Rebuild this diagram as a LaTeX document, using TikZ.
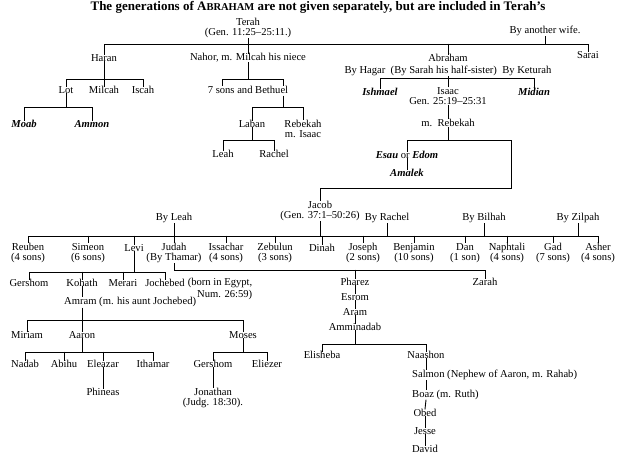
\documentclass[tikz,border=0pt]{standalone}
\usepackage{fontspec}
\setmainfont{Liberation Serif}
\usetikzlibrary{positioning}
\tikzset{
  p/.style={inner sep=0pt, font=\fontsize{10.6}{10.5}\selectfont, align=center},
  e/.style={p, font=\fontsize{10.6}{10.5}\selectfont\bfseries\itshape},
  ln/.style={line width=0.9pt, line cap=rect}
}
% parent, bus height, leftmost child, rightmost child, other children
\newcommand\kin[5]{%
  \draw[ln] (#1.south) -- (#1.south |- 0,#2);
  \draw[ln] (#3.north) -- (#3.north |- 0,#2) -- (#4.north |- 0,#2) -- (#4.north);
  \foreach \c in {#5} \draw[ln] (\c.north) -- (\c.north |- 0,#2);}
\begin{document}
\begin{tikzpicture}[x=1pt,y=-1pt]
  \useasboundingbox (0,0) rectangle (625,457);
  \node[font=\fontsize{13}{13}\selectfont\bfseries] (title) at (318,7)
    {The generations of A{\fontsize{10.5}{11}\selectfont BRAHAM} are not given separately, but are included in Terah's};

  % Terah
  \node[p] (terah) at (248,28) {Terah\\(Gen. 11:25--25:11.)};
  \node[p] (other) at (545,31) {By another wife.};
  \node[p] (haran) at (104,58) {Haran};
  \node[p] (nahor) at (248,58) {Nahor, m. Milcah his niece};
  \node[p] (abraham) at (448,58) {Abraham};
  \node[p] (sarai) at (588,55) {Sarai};
  \draw[ln] (terah.south) -- (terah.south |- 0,44);
  \draw[ln] (other.south) -- (other.south |- 0,44);
  \draw[ln] (haran.north) -- (haran.north |- 0,44) -- (sarai.north |- 0,44) -- (sarai.north);
  \foreach \c in {nahor,abraham} \draw[ln] (\c.north) -- (\c.north |- 0,44);

  % Haran
  \node[p] (lot) at (66,90) {Lot};
  \node[p] (milcah) at (104,90) {Milcah};
  \node[p] (iscah) at (143,90) {Iscah};
  \kin{haran}{79}{lot}{iscah}{milcah}
  \node[e] (moab) at (24,124) {Moab};
  \node[e] (ammon) at (92,124) {Ammon};
  \kin{lot}{107}{moab}{ammon}{}

  % Nahor
  \node[p] (bethuel) at (248,90) {7 sons and Bethuel};
  \coordinate (bl) at (222,86);
  \coordinate (br) at (283,86);
  \kin{nahor}{79}{bl}{br}{}
  \coordinate (bs) at (283,96);
  \node[p] (laban) at (252,124) {Laban};
  \node[p] (rebekah1) at (303,129) {Rebekah\\m. Isaac};
  \kin{bs}{107}{laban}{rebekah1}{}
  \node[p] (leah) at (223,154) {Leah};
  \node[p] (rachel) at (274,154) {Rachel};
  \kin{laban}{140}{leah}{rachel}{}

  % Abraham
  \node[p] (wives) at (448,71) {By Hagar\ \ (By Sarah his half-sister)\ \ By Keturah};
  \node[e] (ishmael) at (380,92) {Ishmael};
  \node[p] (isaac) at (448,96) {Isaac\\Gen. 25:19--25:31};
  \node[e] (midian) at (534,92) {Midian};
  \kin{wives}{78}{ishmael}{midian}{isaac}
  \node[p] (rebekah) at (448,123) {m.\ \ Rebekah};
  \draw[ln] (isaac.south) -- (rebekah.north);
  \node[p] (esau) at (407,155) {\textbf{\textit{Esau}} or \textbf{\textit{Edom}}};
  \node[e] (amalek) at (407,173) {Amalek};
  \draw[ln] (esau.south) -- (amalek.north);
  \node[p] (jacob) at (320,211) {Jacob\\(Gen. 37:1--50:26)};
  \draw[ln] (rebekah.south) -- (rebekah.south |- 0,140);
  \draw[ln] (esau.north) -- (esau.north |- 0,140) -- (511,140) -- (511,188)
    -- (jacob.north |- 0,188) -- (jacob.north);

  % Jacob
  \node[p] (byleah) at (174,218) {By Leah};
  \node[p] (byrachel) at (387,218) {By Rachel};
  \node[p] (bybilhah) at (484,218) {By Bilhah};
  \node[p] (byzilpah) at (578,218) {By Zilpah};
  \node[p] (reuben) at (28,253) {Reuben\\(4 sons)};
  \node[p] (simeon) at (88,253) {Simeon\\(6 sons)};
  \node[p] (levi) at (134,248) {Levi};
  \node[p] (judah) at (174,253) {Judah\\(By Thamar)};
  \node[p] (issachar) at (226,253) {Issachar\\(4 sons)};
  \node[p] (zebulun) at (275,253) {Zebulun\\(3 sons)};
  \node[p] (dinah) at (322,248) {Dinah};
  \node[p] (joseph) at (363,253) {Joseph\\(2 sons)};
  \node[p] (benjamin) at (414,253) {Benjamin\\(10 sons)};
  \node[p] (dan) at (465,253) {Dan\\(1 son)};
  \node[p] (naphtali) at (507,253) {Naphtali\\(4 sons)};
  \node[p] (gad) at (553,253) {Gad\\(7 sons)};
  \node[p] (asher) at (598,253) {Asher\\(4 sons)};
  \draw[ln] (jacob.south) -- (jacob.south |- 0,236);
  \kin{byleah}{236}{reuben}{asher}{simeon,levi,judah,issachar,zebulun,dinah,joseph,benjamin,dan,naphtali,gad}
  \foreach \b in {byrachel,bybilhah,byzilpah} \draw[ln] (\b.south) -- (\b.south |- 0,236);

  % Levi
  \node[p] (gershom) at (29,283) {Gershom};
  \node[p] (kohath) at (82,283) {Kohath};
  \node[p] (merari) at (123,283) {Merari};
  \node[p] (jochebed) at (165,283) {Jochebed};
  \node[p, anchor=west] (egypt) at (jochebed.east) {\ (born in Egypt,};
  \node[p, anchor=north east, yshift=-2pt] (num) at (egypt.south east) {Num. 26:59)};
  \kin{levi}{272}{gershom}{jochebed}{kohath,merari}
  \node[p, anchor=west] (amram) at (64,302) {Amram (m. his aunt Jochebed)};
  \coordinate (amramtop) at (82,297);
  \coordinate (amrambot) at (82,308);
  \draw[ln] (kohath.south) -- (amramtop);
  \node[p] (miriam) at (27,335) {Miriam};
  \node[p] (aaron) at (82,335) {Aaron};
  \node[p] (moses) at (243,335) {Moses};
  \kin{amrambot}{320}{miriam}{moses}{aaron}
  \node[p] (nadab) at (25,364) {Nadab};
  \node[p] (abihu) at (64,364) {Abihu};
  \node[p] (eleazar) at (103,364) {Eleazar};
  \node[p] (ithamar) at (153,364) {Ithamar};
  \kin{aaron}{352}{nadab}{ithamar}{abihu,eleazar}
  \node[p] (phineas) at (103,392) {Phineas};
  \draw[ln] (eleazar.south) -- (phineas.north);
  \node[p] (gershom2) at (213,364) {Gershom};
  \node[p] (eliezer) at (267,364) {Eliezer};
  \kin{moses}{352}{gershom2}{eliezer}{}
  \node[p] (jonathan) at (213,398) {Jonathan\\(Judg. 18:30).};
  \draw[ln] (gershom2.south) -- (jonathan.north);

  % Judah
  \node[p] (pharez) at (355,282) {Pharez};
  \node[p] (zarah) at (485,282) {Zarah};
  \draw[ln] (judah.south) -- (judah.south |- 0,270) -- (zarah.north |- 0,270) -- (zarah.north);
  \draw[ln] (pharez.north) -- (pharez.north |- 0,270);
  \node[p] (esrom) at (355,297) {Esrom};
  \node[p] (aram) at (355,312) {Aram};
  \node[p] (amminadab) at (355,327) {Amminadab};
  \draw[ln] (pharez) -- (esrom) (esrom) -- (aram) (aram) -- (amminadab);
  \node[p] (elisheba) at (322,355) {Elisheba};
  \node[p] (naashon) at (426,355) {Naashon};
  \kin{amminadab}{344}{elisheba}{naashon}{}
  \node[p, anchor=west] (salmon) at (412,375) {Salmon (Nephew of Aaron, m. Rahab)};
  \node[p, anchor=west] (boaz) at (412,395) {Boaz (m. Ruth)};
  \node[p] (obed) at (425,413) {Obed};
  \node[p] (jesse) at (425,431) {Jesse};
  \node[p] (david) at (425,449) {David};
  \draw[ln] (naashon.south) -- (naashon.south |- salmon.north);
  \draw[ln] (naashon.south |- salmon.south) -- (naashon.south |- boaz.north);
  \draw[ln] (naashon.south |- boaz.south) -- (obed.north);
  \draw[ln] (obed) -- (jesse) (jesse) -- (david);
\end{tikzpicture}
\end{document}
